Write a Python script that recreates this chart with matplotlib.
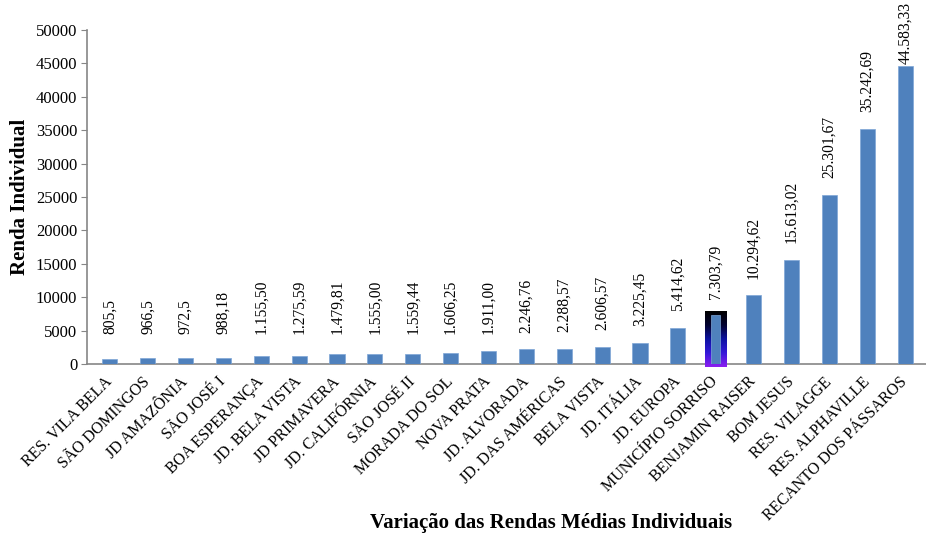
import numpy as np
import matplotlib.pyplot as plt
from matplotlib.patches import FancyBboxPatch
from matplotlib.colors import LinearSegmentedColormap
import matplotlib.transforms as mtransforms

plt.rcParams['font.family'] = ['Liberation Serif', 'DejaVu Serif']

# Bairros e renda média individual
bairros = ['RES. VILA BELA', 'SÃO DOMINGOS', 'JD AMAZÔNIA', 'SÃO JOSÉ I',
           'BOA ESPERANÇA', 'JD. BELA VISTA', 'JD PRIMAVERA', 'JD. CALIFÓRNIA',
           'SÃO JOSÉ II', 'MORADA DO SOL', 'NOVA PRATA', 'JD. ALVORADA',
           'JD. DAS AMÉRICAS', 'BELA VISTA', 'JD. ITÁLIA', 'JD. EUROPA',
           'MUNICÍPIO SORRISO', 'BENJAMIN RAISER', 'BOM JESUS', 'RES. VILAGGE',
           'RES. ALPHAVILLE', 'RECANTO DOS PÁSSAROS']
renda = [805.5, 966.5, 972.5, 988.18, 1155.50, 1275.59, 1479.81, 1555.00,
         1559.44, 1606.25, 1911.00, 2246.76, 2288.57, 2606.57, 3225.45, 5414.62,
         7303.79, 10294.62, 15613.02, 25301.67, 35242.69, 44583.33]
rotulos = ['805,5', '966,5', '972,5', '988,18', '1.155,50', '1.275,59', '1.479,81',
           '1.555,00', '1.559,44', '1.606,25', '1.911,00', '2.246,76', '2.288,57',
           '2.606,57', '3.225,45', '5.414,62', '7.303,79', '10.294,62', '15.613,02',
           '25.301,67', '35.242,69', '44.583,33']
destaque = 'MUNICÍPIO SORRISO'

azul = '#4F81BD'
cinza = '#868686'

fig = plt.figure(figsize=(9.26, 5.42), dpi=100)
ax = fig.add_axes([0.094, 0.328, 0.906, 0.617])

x = np.arange(len(bairros))
barras = ax.bar(x, renda, width=0.4, color=azul, edgecolor='#7ea6d6', linewidth=0.5, zorder=3)

ax.set_ylim(0, 50000)
ax.set_xlim(-0.6, len(bairros) - 0.45)
ax.set_yticks(np.arange(0, 50001, 5000))
ax.set_xticks(x)
ax.set_xticklabels(bairros, rotation=45, ha='right', va='center',
                   rotation_mode='anchor', fontsize=11.5)
desloc = mtransforms.ScaledTranslation(4 / 100, 0, fig.dpi_scale_trans)
for lab in ax.get_xticklabels():
    lab.set_transform(lab.get_transform() + desloc)
ax.tick_params(axis='x', length=0, pad=11)
ax.tick_params(axis='y', direction='out', length=4, color=cinza, labelsize=12, pad=3)

for s in ['top', 'right']:
    ax.spines[s].set_visible(False)
for s in ['left', 'bottom']:
    ax.spines[s].set_color(cinza)
    ax.spines[s].set_linewidth(1.2)

# barra em destaque (município)
k = bairros.index(destaque)
barras[k].set_width(0.24)
barras[k].set_x(k - 0.12)
barras[k].set_zorder(5)
v = renda[k]
aspecto = (50000 / 334.0) / (1 / 37.9)
caixa = FancyBboxPatch((k - 0.29, -450), 0.58, v + 1050,
                       boxstyle='round,pad=0,rounding_size=0.1',
                       mutation_aspect=aspecto, facecolor='none',
                       edgecolor='none', transform=ax.transData, clip_on=False)
ax.add_patch(caixa)
cmap = LinearSegmentedColormap.from_list('brilho', ['#000000', '#020230', '#0c12a0', '#3318d8', '#8a1ef0'])
grad = np.linspace(0, 1, 100).reshape(-1, 1)
img = ax.imshow(grad, cmap=cmap, aspect='auto', origin='upper',
                extent=(k - 0.29, k + 0.29, -450, v + 600), zorder=4, clip_on=False)
img.set_clip_path(caixa)
ax.set_xlim(-0.6, len(bairros) - 0.45)
ax.set_ylim(0, 50000)

# rótulos de valores
topo = mtransforms.blended_transform_factory(ax.transData, fig.transFigure)
for i, (val, txt) in enumerate(zip(renda, rotulos)):
    if val > 0.85 * 50000:
        ax.text(i, 0.997, txt, transform=topo, rotation=90, ha='center', va='top',
                fontsize=11.2, zorder=6)
    else:
        ax.annotate(txt, (i, max(val, 2100)), xytext=(0, 12), textcoords='offset points',
                    rotation=90, ha='center', va='bottom', fontsize=11.2)

ax.set_ylabel('Renda Individual', fontsize=15, fontweight='bold', labelpad=4)
fig.text(0.595, 0.016, 'Variação das Rendas Médias Individuais', ha='center',
         va='bottom', fontsize=15, fontweight='bold')

fig.savefig('out.png', dpi=100)
